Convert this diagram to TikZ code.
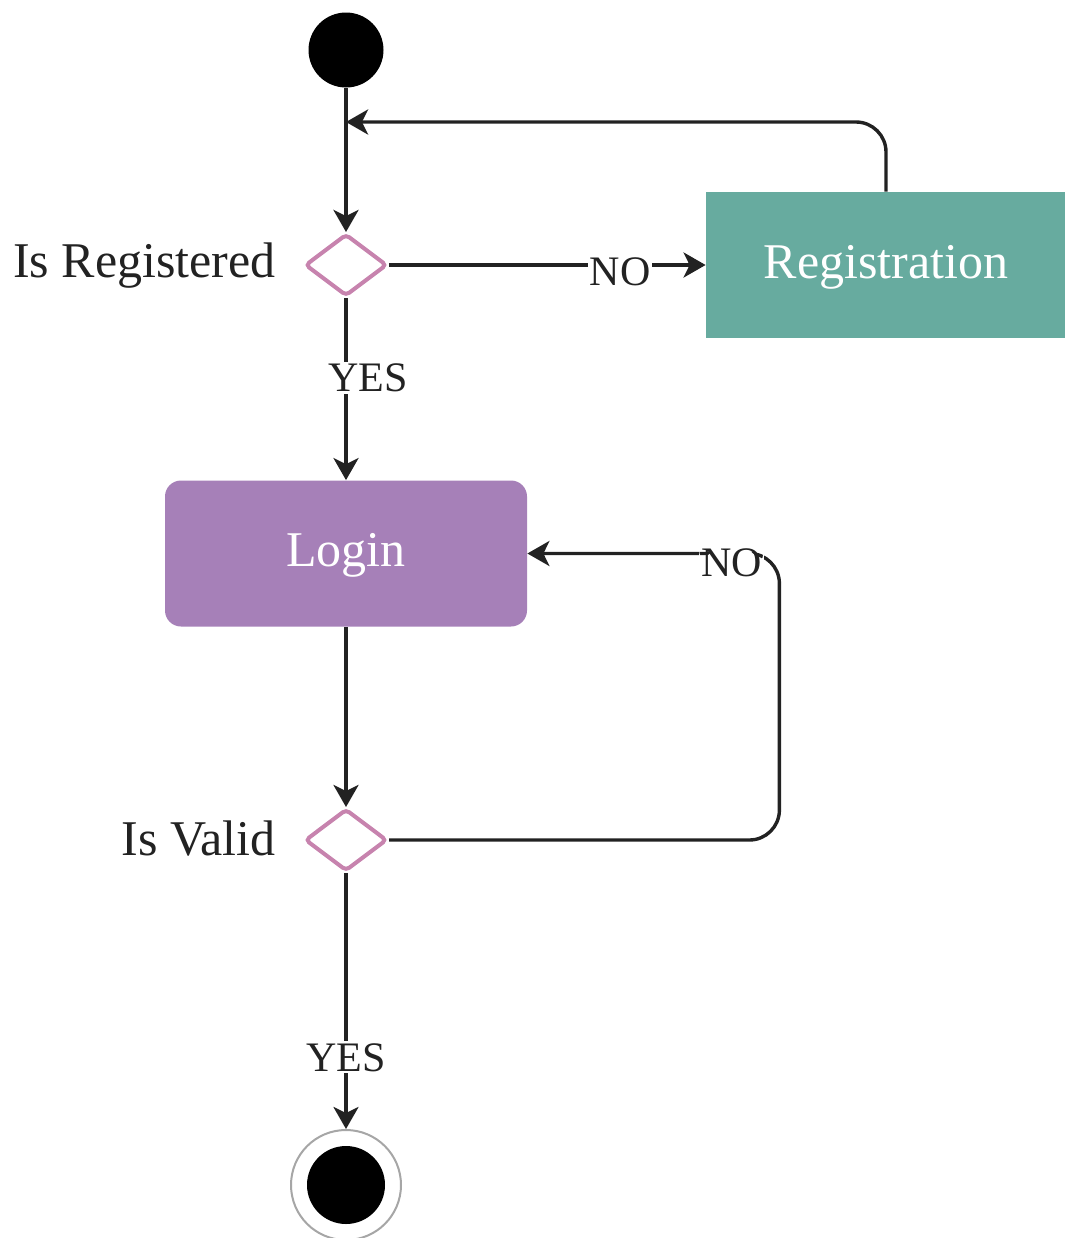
\documentclass[tikz,border=0pt]{standalone}
\usepackage{fontspec}
\setmainfont{Liberation Serif}
\usetikzlibrary{shapes.geometric,arrows.meta}
\definecolor{regfill}{HTML}{67AB9F}
\definecolor{loginfill}{HTML}{A680B8}
\definecolor{decline}{HTML}{C783AE}
\definecolor{ink}{HTML}{222222}
\begin{document}
\begin{tikzpicture}[x=0.5pt,y=-0.5pt,
  flow/.style={draw=ink, line width=1.7pt, -{Stealth[length=11pt,width=12.5pt,inset=3pt]}},
  decision/.style={diamond, draw=decline, line width=2pt, fill=white, inner sep=0pt,
    minimum width=41pt, minimum height=31pt, rounded corners=2pt},
  actbox/.style={rectangle, draw=none, text=white, inner sep=0pt,
    minimum width=181pt, minimum height=73pt, text height=13pt, text depth=0pt,
    font=\fontsize{25}{30}\selectfont},
  sidelbl/.style={font=\fontsize{25}{30}\selectfont, text=ink, inner sep=0pt},
  lbl/.style={fill=white, inner sep=1pt, text=ink, font=\fontsize{21}{25}\selectfont},
  dot/.style={circle, fill=black, inner sep=0pt}
]
\useasboundingbox (0,0) rectangle (1065,1238);

% nodes
\node[dot, minimum size=37.5pt] (start) at (346,50) {};
\node[decision] (d1) at (346,265) {};
\node[sidelbl, anchor=base east] (isreg) at (276,277) {Is Registered};
\node[actbox, fill=regfill, minimum width=180pt] (reg) at (886,265) {Registration};
\node[actbox, fill=loginfill, rounded corners=8pt] (login) at (346,553.5) {Login};
\node[decision] (d2) at (346,840) {};
\node[sidelbl, anchor=base east] (isvalid) at (276,855) {Is Valid};
\node[circle, draw=black!35, line width=1pt, fill=white, minimum size=55pt, inner sep=0pt] (endring) at (346,1185) {};
\node[dot, minimum size=39pt] (enddot) at (346,1185) {};
\coordinate (merge) at (346,122);

% connectors
\draw[flow] (start) -- (d1);
\draw[flow, rounded corners=15pt] (reg.north) |- (merge);
\draw[flow] (d1.east) -- node[lbl, pos=0.73, yshift=-3.5pt] {NO} (reg.west);
\draw[flow] (d1.south) -- node[lbl, pos=0.44, xshift=11pt] {YES} (login.north);
\draw[flow] (login.south) -- (d2.north);
\draw[flow, rounded corners=15pt] (d2.east) -| ([xshift=126pt]login.east)
  -- node[lbl, pos=0.19, yshift=-4.5pt] {NO} (login.east);
\draw[flow] (d2.south) -- node[lbl, pos=0.72] {YES} (endring.north);
\end{tikzpicture}
\end{document}
